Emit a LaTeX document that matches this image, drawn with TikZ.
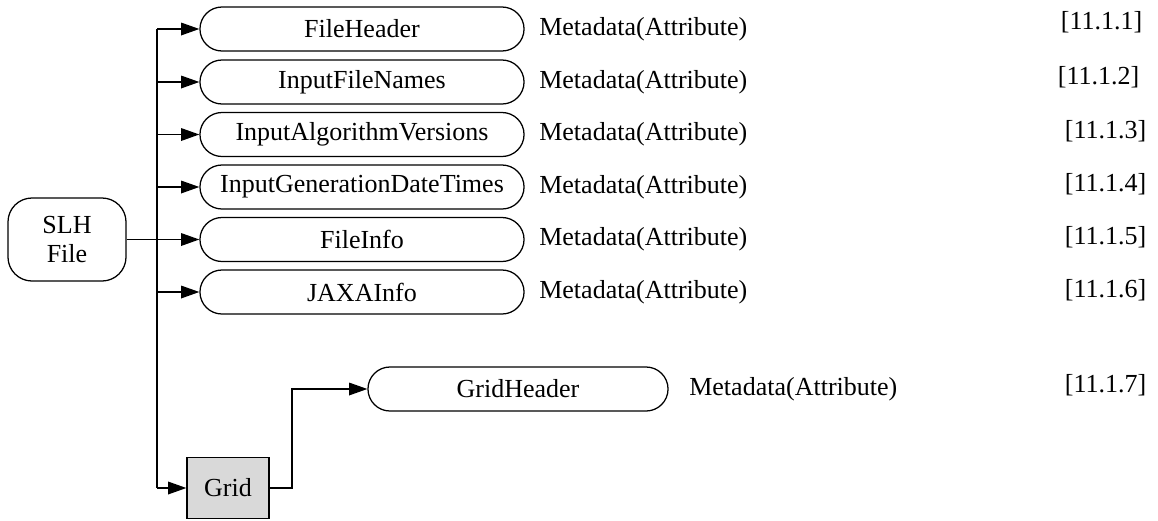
\documentclass[tikz,border=0pt]{standalone}
\usepackage{fontspec}
\setmainfont{Liberation Serif}
\usetikzlibrary{positioning, arrows.meta, shapes.misc}

\begin{document}
\begin{tikzpicture}[
    x=0.025cm, y=-0.025cm,
    line width=0.9pt,
    >={Triangle[length=13pt, width=9pt]},
    every node/.style={font=\fontsize{18.5}{21}\selectfont, inner sep=0pt},
    pill/.style={draw, rounded rectangle, minimum width=8.1cm, minimum height=1.1cm},
    filebox/.style={draw, rounded corners=0.6cm, align=center, minimum width=2.95cm, minimum height=2.075cm},
    groupbox/.style={draw, fill=black!15, minimum width=2.05cm, minimum height=1.525cm},
    meta/.style={anchor=west},
    ref/.style={anchor=east},
]
\useasboundingbox (0,0) rectangle (1158,520);

% left side
\node[filebox] (slh) at (67,239.5) {SLH\\File};
\coordinate (trunk) at (157,0);
\coordinate (bend) at (292,0);

% attributes of the file
\node[pill] (fileheader) at (362,29) {FileHeader};
\node[pill] (inputfilenames) at (362,82) {InputFileNames};
\node[pill] (inputalgversions) at (362,134.5) {InputAlgorithmVersions};
\node[pill] (inputgendates) at (362,187) {InputGenerationDateTimes};
\node[pill] (fileinfo) at (362,239.5) {FileInfo};
\node[pill] (jaxainfo) at (362,292) {JAXAInfo};
\node[groupbox] (grid) at (228,488) {Grid};
\node[pill, minimum width=7.5cm] (gridheader) at (518,389) {GridHeader};

\node[meta, right=0.35cm of fileheader] (m1) {Metadata(Attribute)};
\node[meta, right=0.35cm of inputfilenames] (m2) {Metadata(Attribute)};
\node[meta, right=0.35cm of inputalgversions] (m3) {Metadata(Attribute)};
\node[meta, right=0.35cm of inputgendates] (m4) {Metadata(Attribute)};
\node[meta, right=0.35cm of fileinfo] (m5) {Metadata(Attribute)};
\node[meta, right=0.35cm of jaxainfo] (m6) {Metadata(Attribute)};
\node[meta, right=0.5cm of gridheader] (m7) {Metadata(Attribute)};

\node[ref] (r1) at (1143,22) {[11.1.1]};
\node[ref] (r2) at (1140,77) {[11.1.2]};
\node[ref] (r3) at (1147,131) {[11.1.3]};
\node[ref] (r4) at (1147,184) {[11.1.4]};
\node[ref] (r5) at (1147,237) {[11.1.5]};
\node[ref] (r6) at (1147,290) {[11.1.6]};
\node[ref] (r7) at (1147,385) {[11.1.7]};

% connectors
\draw[line width=1.4pt] (slh.east) -- (slh.east -| trunk);
\draw (trunk |- fileheader) -- (trunk |- grid);
\draw[->] (trunk |- fileheader) -- (fileheader);
\draw[->] (trunk |- inputfilenames) -- (inputfilenames);
\draw[->] (trunk |- inputalgversions) -- (inputalgversions);
\draw[->] (trunk |- inputgendates) -- (inputgendates);
\draw[->] (trunk |- fileinfo) -- (fileinfo);
\draw[->] (trunk |- jaxainfo) -- (jaxainfo);
\draw[->] (trunk |- grid) -- (grid);
\draw[->] (grid) -- (grid -| bend) |- (gridheader);
\end{tikzpicture}
\end{document}
